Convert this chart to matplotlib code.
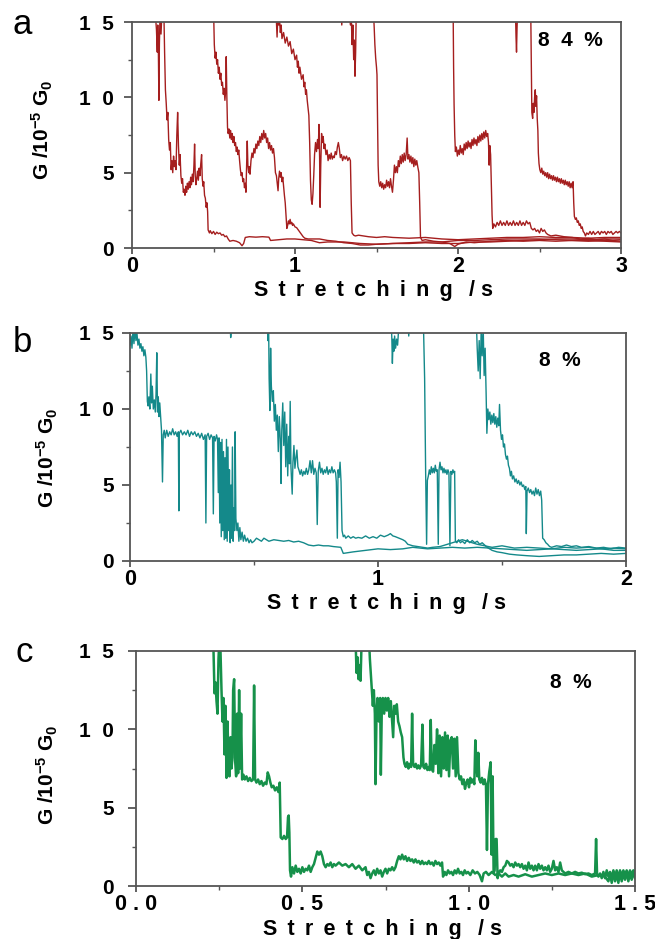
import numpy as np
import matplotlib
matplotlib.use('Agg')
import matplotlib.pyplot as plt
from matplotlib.ticker import MultipleLocator

plt.rcParams['font.family'] = ['Liberation Sans', 'DejaVu Sans']
plt.rcParams['mathtext.fontset'] = 'custom'
plt.rcParams['mathtext.rm'] = 'Liberation Sans:bold'
plt.rcParams['mathtext.it'] = 'Liberation Sans:bold'
plt.rcParams['mathtext.bf'] = 'Liberation Sans:bold'

# ---- data: (stretching time /s, G /1e-5 G0) ----
a1 = [(0.140,16),(0.150,14.5),(0.155,13.0),(0.158,14.8),(0.162,12.9),(0.165,9.8),(0.168,13.5),(0.172,15.5),(0.178,14.2),(0.185,16),(0.195,16),
      (0.200,13.0),(0.205,10.5),(0.210,9.6),(0.215,8.5),(0.220,9.0),(0.225,7.2),(0.230,6.5),(0.235,7.0),(0.240,5.2),(0.245,5.8),(0.250,5.0),(0.255,6.1),(0.260,5.4),(0.265,5.8),(0.270,5.2),(0.275,7.5),(0.280,9.0),(0.285,6.8),(0.290,5.5),(0.295,6.2),(0.300,4.8),(0.305,4.3),(0.310,4.6),(0.315,3.7),(0.320,3.9),(0.325,3.5),(0.330,4.1),(0.335,3.7),(0.340,4.3),(0.345,3.9),(0.350,4.4),(0.355,4.0),(0.360,4.7),(0.365,4.2),(0.370,4.9),(0.375,4.4),(0.380,5.5),(0.384,6.9),(0.388,4.8),(0.392,4.2),(0.397,4.6),(0.402,5.1),(0.407,4.5),(0.412,5.3),(0.417,4.8),(0.422,5.6),(0.427,6.2),(0.431,4.6),(0.436,4.1),(0.440,4.4),(0.445,3.5),(0.450,3.3),(0.455,2.7),(0.460,3.0),(0.464,2.4),(0.467,1.2),
      (0.475,1.0),(0.480,1.15),(0.490,0.95),(0.500,1.1),(0.510,0.9),(0.520,1.05),(0.530,0.95),(0.540,1.0),(0.550,0.85),(0.560,0.9),(0.570,0.75),(0.580,0.8),(0.590,0.6),(0.600,0.45),(0.620,0.5),(0.640,0.45),(0.660,0.35),(0.675,0.15),(0.685,0.3),(0.695,0.7),(0.720,0.75),(0.760,0.72),(0.800,0.75),(0.840,0.72),(0.850,0.5),(0.900,0.55),(0.950,0.6),(1.000,0.6),(1.050,0.55),(1.100,0.5),(1.150,0.35),(1.200,0.4),(1.300,0.4),(1.400,0.3),(1.500,0.25),(1.600,0.3),(1.700,0.35),(1.800,0.4),(1.900,0.4),(2.000,0.5),(2.100,0.5),(2.200,0.55),(2.300,0.6),(2.400,0.6),(2.500,0.6),(2.600,0.55),(2.700,0.5),(2.800,0.5),(2.900,0.45),(3.000,0.4)]
a2 = [(0.500,16),(0.505,13.5),(0.510,12.6),(0.515,13.0),(0.520,12.2),(0.525,12.5),(0.530,11.6),(0.535,12.0),(0.540,11.2),(0.545,11.6),(0.550,10.8),(0.555,11.0),(0.560,10.2),(0.565,10.6),(0.570,9.8),(0.575,10.5),(0.578,12.7),(0.582,10.0),(0.586,8.0),(0.590,7.6),(0.595,7.9),(0.600,7.3),(0.605,7.8),(0.610,7.2),(0.615,7.6),(0.620,7.0),(0.625,7.4),(0.630,6.8),(0.635,7.0),(0.640,6.4),(0.645,6.7),(0.650,6.2),(0.655,6.5),(0.660,5.8),(0.665,5.2),(0.670,4.8),(0.675,5.0),(0.680,4.4),(0.685,4.6),(0.690,4.0),(0.695,4.3),(0.699,3.7),(0.703,5.5),(0.707,7.1),(0.711,5.5),(0.716,5.0),(0.720,5.4),(0.724,4.9),(0.730,5.8),(0.736,6.3),(0.742,6.0),(0.748,6.6),(0.754,6.3),(0.760,6.9),(0.766,6.6),(0.772,7.1),(0.778,6.8),(0.784,7.4),(0.790,7.0),(0.796,7.6),(0.802,7.2),(0.808,7.8),(0.814,7.3),(0.820,7.6),(0.826,7.0),(0.832,7.3),(0.838,6.6),(0.844,7.0),(0.850,6.5),(0.856,6.8),(0.862,6.3),(0.868,6.6),(0.874,6.0),(0.880,5.0),(0.886,4.8),(0.892,4.2),(0.896,3.8),(0.900,4.6),(0.905,5.1),(0.910,4.7),(0.915,5.0),(0.920,4.4),(0.925,4.7),(0.930,4.1),(0.935,3.5),(0.940,3.0),(0.945,2.2),(0.950,1.3),(0.955,1.5),(0.960,1.8),(0.965,1.6),(0.970,1.9),(0.975,1.6),(0.980,1.7),(0.985,1.5),(0.990,1.6),(1.000,1.4),(1.010,1.35),(1.020,1.2),(1.030,1.05),(1.040,0.9),(1.050,0.75),(1.060,0.65),(1.080,0.6),(1.100,0.6),(1.150,0.6),(1.200,0.5),(1.250,0.45),(1.300,0.35),(1.350,0.3),(1.400,0.2),(1.450,0.2),(1.500,0.25),(1.600,0.3),(1.700,0.3),(1.800,0.35),(1.900,0.3),(2.000,0.3),(2.100,0.4),(2.200,0.4),(2.300,0.45),(2.400,0.5),(2.500,0.55),(2.600,0.6),(2.700,0.6),(2.800,0.55),(2.900,0.6),(3.000,0.6)]
a3 = [(0.880,16),(0.885,15.3),(0.890,14.0),(0.895,15.5),(0.900,14.8),(0.905,15.2),(0.910,14.3),(0.915,14.8),(0.920,13.9),(0.930,14.3),(0.940,13.6),(0.950,14.0),(0.960,13.4),(0.970,13.7),(0.980,12.9),(0.990,13.2),(1.000,12.5),(1.010,12.8),(1.015,12.0),(1.020,12.4),(1.025,11.6),(1.030,12.0),(1.040,11.2),(1.050,11.5),(1.055,10.7),(1.060,11.0),(1.065,10.2),(1.070,10.5),(1.075,9.8),(1.080,9.3),(1.085,8.8),(1.090,7.0),(1.095,4.5),(1.100,3.2),(1.105,2.9),(1.110,3.6),(1.115,4.8),(1.120,6.2),(1.126,7.0),(1.132,6.4),(1.138,7.2),(1.143,6.6),(1.147,8.2),(1.151,6.0),(1.154,2.7),(1.158,5.5),(1.163,7.6),(1.168,7.0),(1.173,7.4),(1.178,6.6),(1.183,6.9),(1.190,6.2),(1.197,6.5),(1.203,5.8),(1.210,6.2),(1.216,5.9),(1.222,6.3),(1.229,5.9),(1.235,6.1),(1.241,6.0),(1.247,6.4),(1.254,6.2),(1.260,6.7),(1.266,7.0),(1.272,6.6),(1.278,6.0),(1.285,6.2),(1.292,5.8),(1.300,6.1),(1.308,5.9),(1.316,6.1),(1.324,5.8),(1.332,6.0),(1.340,5.8),(1.345,3.0),(1.350,1.0),(1.360,0.85),(1.370,0.8),(1.390,0.85),(1.420,0.8),(1.450,0.75),(1.500,0.7),(1.550,0.75),(1.600,0.7),(1.700,0.65),(1.800,0.7),(1.900,0.6),(2.000,0.55),(2.100,0.6),(2.200,0.65),(2.300,0.7),(2.400,0.7),(2.500,0.75),(2.600,0.7),(2.700,0.7),(2.800,0.65),(2.900,0.7),(3.000,0.7)]
a4 = [(1.280,16),(1.287,14.8),(1.292,16),(1.330,16),(1.340,14.8),(1.345,15.5),(1.350,13.5),(1.355,14.8),(1.360,12.5),(1.364,13.8),(1.368,11.4),(1.372,13.0),(1.376,16),(1.480,16),(1.486,14.6),(1.490,13.5),(1.495,12.6),(1.500,12.0),(1.503,11.5),(1.507,8.0),(1.510,5.5),(1.514,4.4),(1.520,4.1),(1.526,4.4),(1.532,4.0),(1.538,4.3),(1.544,3.9),(1.550,4.2),(1.556,4.0),(1.562,4.5),(1.568,4.1),(1.574,4.4),(1.580,4.0),(1.586,4.6),(1.592,4.1),(1.598,3.7),(1.604,4.5),(1.610,5.5),(1.616,5.0),(1.622,5.4),(1.628,5.0),(1.634,5.8),(1.640,5.4),(1.646,6.1),(1.652,5.6),(1.658,6.2),(1.664,5.7),(1.670,6.3),(1.676,5.8),(1.682,6.2),(1.688,7.3),(1.693,5.9),(1.699,6.2),(1.705,5.7),(1.711,6.1),(1.717,5.6),(1.723,6.0),(1.729,5.4),(1.735,5.9),(1.741,5.5),(1.747,5.8),(1.753,5.4),(1.760,5.0),(1.765,3.0),(1.770,0.7),(1.780,0.5),(1.800,0.55),(1.850,0.45),(1.900,0.4),(1.950,0.3),(1.980,0.1),(2.000,0.25),(2.050,0.4),(2.100,0.35),(2.200,0.45),(2.300,0.5),(2.400,0.45),(2.500,0.5),(2.600,0.45),(2.700,0.5),(2.800,0.45),(2.900,0.5),(3.000,0.45)]
a5 = [(1.970,16),(1.973,12.0),(1.976,9.5),(1.980,7.5),(1.984,6.4),(1.990,6.7),(1.996,6.1),(2.002,6.5),(2.008,6.2),(2.014,6.8),(2.020,6.3),(2.026,6.6),(2.032,6.2),(2.038,6.9),(2.044,6.5),(2.050,7.0),(2.056,6.6),(2.062,7.1),(2.068,6.7),(2.074,7.0),(2.080,6.6),(2.086,7.2),(2.092,6.8),(2.098,7.3),(2.104,6.9),(2.110,7.2),(2.116,6.8),(2.122,7.4),(2.128,7.0),(2.134,7.5),(2.140,7.1),(2.146,7.6),(2.152,7.2),(2.158,7.7),(2.164,7.3),(2.170,7.8),(2.176,7.4),(2.182,7.6),(2.187,7.0),(2.191,5.5),(2.195,6.8),(2.200,6.2),(2.205,4.0),(2.209,2.2),(2.213,1.3),(2.220,1.6),(2.230,1.4),(2.240,1.7),(2.250,1.5),(2.260,1.8),(2.270,1.5),(2.280,1.7),(2.290,1.5),(2.300,1.8),(2.310,1.5),(2.320,1.7),(2.330,1.5),(2.340,1.8),(2.350,1.5),(2.360,1.7),(2.370,1.5),(2.380,1.8),(2.390,1.5),(2.400,1.7),(2.410,1.5),(2.420,1.8),(2.430,1.6),(2.440,1.7),(2.450,1.3),(2.460,1.2),(2.470,1.3),(2.480,1.1),(2.490,1.2),(2.500,1.0),(2.510,1.3),(2.520,1.1),(2.530,1.2),(2.540,1.0),(2.550,0.9),(2.570,0.8),(2.600,0.85),(2.650,0.75),(2.700,0.7),(2.750,0.6),(2.800,0.65),(2.850,0.55),(2.900,0.6),(2.950,0.5),(3.000,0.55)]
a6 = [(2.300,16),(2.352,16),(2.356,14.0),(2.359,13.0),(2.362,14.5),(2.366,16),(2.446,16),(2.450,12.0),(2.453,9.0),(2.458,8.6),(2.462,9.6),(2.466,9.0),(2.470,10.0),(2.474,10.5),(2.478,9.4),(2.482,10.1),(2.486,8.6),(2.490,7.8),(2.493,6.3),(2.497,5.6),(2.502,5.2),(2.508,5.0),(2.514,5.3),(2.520,4.9),(2.526,5.1),(2.532,4.8),(2.538,5.0),(2.544,4.7),(2.550,5.0),(2.556,4.6),(2.562,4.9),(2.568,4.6),(2.574,4.8),(2.580,4.5),(2.586,4.8),(2.592,4.5),(2.598,4.7),(2.604,4.4),(2.610,4.7),(2.616,4.4),(2.622,4.6),(2.628,4.3),(2.634,4.6),(2.640,4.3),(2.646,4.5),(2.652,4.2),(2.658,4.5),(2.664,4.2),(2.670,4.4),(2.676,4.1),(2.682,4.4),(2.688,4.0),(2.694,4.3),(2.700,4.0),(2.706,4.4),(2.710,3.0),(2.714,2.1),(2.720,1.9),(2.726,2.0),(2.732,1.7),(2.738,1.8),(2.744,1.5),(2.750,1.6),(2.756,1.3),(2.762,1.4),(2.768,1.1),(2.775,1.0),(2.782,0.8),(2.790,1.0),(2.800,0.9),(2.810,1.1),(2.820,0.9),(2.830,1.1),(2.840,0.9),(2.850,1.0),(2.860,1.1),(2.870,0.9),(2.880,1.1),(2.890,1.0),(2.900,1.1),(2.910,0.9),(2.920,1.1),(2.930,1.0),(2.940,1.1),(2.950,0.9),(2.960,1.0),(2.970,1.1),(2.980,1.0),(2.990,1.1),(3.000,1.0)]

b1 = [(0.000,14.2),(0.004,14.8),(0.008,14.0),(0.012,15.2),(0.016,14.3),(0.020,15.3),(0.024,14.5),(0.028,15.0),(0.032,14.2),(0.036,14.6),(0.040,14.0),(0.044,14.3),(0.048,13.8),(0.052,14.1),(0.056,13.5),(0.060,13.9),(0.064,13.4),(0.067,12.5),(0.070,10.5),(0.073,10.2),(0.076,10.8),(0.080,10.0),(0.084,12.3),(0.087,10.4),(0.090,11.5),(0.094,10.0),(0.098,10.6),(0.102,9.8),(0.105,11.0),(0.108,13.7),(0.111,9.8),(0.114,10.8),(0.117,9.5),(0.120,10.4),(0.124,9.4),(0.127,8.6),(0.131,5.2),(0.134,8.3),(0.138,8.6),(0.142,8.1),(0.148,8.6),(0.154,8.2),(0.160,8.5),(0.166,8.3),(0.172,8.7),(0.178,8.3),(0.184,8.5),(0.190,8.2),(0.195,8.5),(0.197,3.3),(0.199,8.4),(0.205,8.6),(0.212,8.3),(0.219,8.5),(0.226,8.3),(0.233,8.6),(0.240,8.2),(0.247,8.5),(0.254,8.3),(0.261,8.5),(0.268,8.2),(0.275,8.4),(0.282,8.1),(0.289,8.4),(0.296,8.0),(0.303,8.3),(0.306,2.5),(0.309,8.2),(0.315,8.4),(0.321,8.0),(0.327,8.3),(0.333,8.1),(0.336,3.1),(0.339,8.2),(0.344,7.9),(0.349,8.3),(0.353,8.0),(0.356,4.5),(0.359,8.1),(0.362,2.5),(0.365,7.8),(0.368,1.6),(0.371,8.0),(0.374,2.0),(0.377,7.2),(0.380,1.4),(0.383,6.8),(0.386,1.5),(0.389,8.0),(0.392,1.3),(0.395,7.5),(0.398,2.0),(0.401,6.0),(0.404,1.2),(0.407,5.0),(0.410,1.5),(0.413,7.5),(0.416,1.3),(0.419,3.5),(0.422,2.0),(0.424,8.5),(0.427,2.8),(0.431,2.0),(0.435,2.5),(0.439,1.3),(0.443,2.2),(0.447,1.4),(0.452,1.9),(0.457,1.3),(0.462,1.7),(0.468,1.3),(0.474,1.5),(0.480,1.2),(0.486,1.4),(0.492,1.2),(0.500,1.3),(0.510,1.5),(0.520,1.4),(0.530,1.3),(0.540,1.5),(0.550,1.4),(0.560,1.3),(0.580,1.4),(0.600,1.35),(0.620,1.3),(0.640,1.35),(0.660,1.25),(0.680,1.3),(0.700,1.2),(0.720,1.05),(0.740,1.0),(0.760,1.05),(0.780,1.0),(0.800,1.0),(0.820,0.95),(0.850,0.9),(0.860,0.5),(0.880,0.55),(0.900,0.6),(0.950,0.7),(1.000,0.8),(1.050,0.75),(1.100,0.8),(1.140,0.9),(1.200,0.8),(1.250,0.85),(1.300,0.9),(1.350,0.85),(1.400,0.9),(1.450,0.85),(1.500,0.8),(1.550,0.75),(1.600,0.7),(1.650,0.75),(1.700,0.8),(1.750,0.75),(1.800,0.7),(1.850,0.75),(1.900,0.8),(1.950,0.7),(2.000,0.7)]
b2 = [(0.395,16),(0.403,16),(0.406,14.7),(0.409,15.3),(0.412,16),(0.553,16),(0.556,14.5),(0.559,15.5),(0.561,12.0),(0.564,9.9),(0.567,14.0),(0.570,11.5),(0.574,10.5),(0.578,11.2),(0.582,9.2),(0.586,10.3),(0.590,8.6),(0.594,9.6),(0.598,7.2),(0.602,9.5),(0.606,8.0),(0.609,5.1),(0.612,8.6),(0.616,10.4),(0.620,7.6),(0.624,9.8),(0.628,6.2),(0.632,9.0),(0.636,5.6),(0.640,8.2),(0.643,6.4),(0.646,10.5),(0.649,6.2),(0.652,5.2),(0.654,4.4),(0.657,6.5),(0.661,7.6),(0.665,6.1),(0.669,6.8),(0.673,7.3),(0.677,6.2),(0.681,6.0),(0.686,5.7),(0.691,6.0),(0.696,5.6),(0.701,5.9),(0.706,5.7),(0.711,6.1),(0.716,5.7),(0.721,6.0),(0.726,6.6),(0.731,5.8),(0.736,6.6),(0.741,5.7),(0.746,6.1),(0.751,5.8),(0.755,2.4),(0.759,5.9),(0.764,6.5),(0.769,5.8),(0.774,6.1),(0.779,5.7),(0.784,6.0),(0.789,5.8),(0.794,6.2),(0.799,5.7),(0.804,6.0),(0.809,5.8),(0.814,6.2),(0.819,5.8),(0.824,6.0),(0.829,5.8),(0.832,5.2),(0.836,1.5),(0.839,6.0),(0.843,5.5),(0.847,6.5),(0.851,5.2),(0.855,2.0),(0.860,1.6),(0.865,1.7),(0.870,1.5),(0.880,1.65),(0.890,1.5),(0.900,1.6),(0.910,1.5),(0.920,1.55),(0.935,1.5),(0.950,1.65),(0.965,1.5),(0.980,1.6),(0.995,1.5),(1.010,1.7),(1.025,1.6),(1.040,1.7),(1.050,1.8),(1.060,1.65),(1.070,1.6),(1.085,1.5),(1.100,1.4),(1.110,1.3),(1.120,1.1),(1.140,1.0),(1.160,0.95),(1.180,0.9),(1.200,0.85),(1.220,0.9),(1.250,0.95),(1.280,1.1),(1.300,1.2),(1.320,1.3),(1.340,1.4),(1.360,1.3),(1.380,1.2),(1.400,1.1),(1.430,1.0),(1.460,0.9),(1.500,1.0),(1.550,0.85),(1.600,0.9),(1.650,0.85),(1.700,0.8),(1.750,0.9),(1.800,0.85),(1.850,0.9),(1.900,0.8),(1.950,0.85),(2.000,0.8)]
b3 = [(1.053,16),(1.056,14.5),(1.058,13.0),(1.061,14.6),(1.064,13.8),(1.067,14.8),(1.071,14.0),(1.075,14.6),(1.079,14.2),(1.083,15.2),(1.087,16),(1.120,16),(1.124,14.8),(1.128,16),(1.180,16),(1.184,15.0),(1.188,12.0),(1.192,6.0),(1.196,1.1),(1.199,5.3),(1.203,5.6),(1.207,6.0),(1.211,5.7),(1.215,6.2),(1.219,5.8),(1.223,6.1),(1.227,5.8),(1.231,6.3),(1.235,5.9),(1.239,6.0),(1.243,1.1),(1.246,6.0),(1.250,6.5),(1.254,6.0),(1.258,6.2),(1.262,5.8),(1.266,6.1),(1.270,5.8),(1.274,6.0),(1.278,5.7),(1.282,6.0),(1.286,5.8),(1.290,1.0),(1.294,5.9),(1.298,5.7),(1.302,6.0),(1.306,5.8),(1.309,5.9),(1.312,1.3),(1.318,1.2),(1.325,1.4),(1.332,1.2),(1.340,1.3),(1.350,1.15),(1.360,1.4),(1.370,1.2),(1.380,1.35),(1.390,1.2),(1.400,1.3),(1.410,1.1),(1.420,1.2),(1.440,0.9),(1.460,0.7),(1.480,0.6),(1.500,0.55),(1.530,0.45),(1.560,0.4),(1.600,0.35),(1.650,0.3),(1.700,0.35),(1.750,0.4),(1.800,0.4),(1.850,0.45),(1.900,0.5),(1.950,0.45),(2.000,0.5)]
b4 = [(1.396,16),(1.400,14.0),(1.404,12.5),(1.408,14.5),(1.412,12.0),(1.416,15.2),(1.420,13.5),(1.424,15.5),(1.428,12.2),(1.432,14.0),(1.436,11.0),(1.439,8.4),(1.443,10.0),(1.447,9.3),(1.451,9.8),(1.455,9.0),(1.459,9.6),(1.463,9.1),(1.467,9.7),(1.471,9.0),(1.475,9.5),(1.479,8.8),(1.483,9.4),(1.487,8.9),(1.490,10.3),(1.494,8.6),(1.498,8.0),(1.502,8.3),(1.506,7.5),(1.510,7.7),(1.514,7.0),(1.518,6.7),(1.522,6.9),(1.526,6.3),(1.530,6.1),(1.534,5.6),(1.538,5.9),(1.542,5.4),(1.547,5.6),(1.552,5.2),(1.557,5.4),(1.562,5.1),(1.567,5.3),(1.572,5.0),(1.577,5.2),(1.582,4.9),(1.587,5.0),(1.592,4.7),(1.596,4.9),(1.598,1.8),(1.601,4.6),(1.606,4.8),(1.611,4.5),(1.616,4.7),(1.621,4.4),(1.626,4.6),(1.631,4.3),(1.636,4.8),(1.641,4.4),(1.646,4.7),(1.651,4.3),(1.656,4.6),(1.660,4.0),(1.664,1.5),(1.670,1.4),(1.677,1.2),(1.684,1.1),(1.692,0.95),(1.700,0.9),(1.720,1.0),(1.740,0.95),(1.760,1.05),(1.780,0.95),(1.800,1.0),(1.820,0.9),(1.850,0.95),(1.880,0.85),(1.910,0.9),(1.940,0.8),(1.970,0.9),(2.000,0.85)]

c1 = [(0.230,16),(0.233,15.0),(0.236,12.3),(0.239,13.0),(0.242,11.8),(0.245,11.0),(0.248,14.5),(0.251,16),(0.254,15.0),(0.257,12.5),(0.260,10.5),(0.263,12.0),(0.266,8.4),(0.269,11.5),(0.272,6.9),(0.275,10.5),(0.278,8.0),(0.281,7.0),(0.284,9.5),(0.287,7.5),(0.290,8.2),(0.292,12.5),(0.295,13.2),(0.298,8.0),(0.301,7.0),(0.304,11.0),(0.307,7.2),(0.310,12.5),(0.313,7.5),(0.316,11.0),(0.319,6.8),(0.323,7.1),(0.327,6.8),(0.332,7.0),(0.337,6.7),(0.342,6.9),(0.347,6.7),(0.352,6.8),(0.355,12.8),(0.358,6.8),(0.362,6.6),(0.367,6.8),(0.372,6.5),(0.377,6.7),(0.382,6.4),(0.387,6.6),(0.392,6.5),(0.396,7.25),(0.400,7.0),(0.404,6.6),(0.408,6.3),(0.413,6.4),(0.418,6.1),(0.423,6.3),(0.428,6.0),(0.432,6.6),(0.435,3.1),(0.440,3.0),(0.445,3.2),(0.450,3.0),(0.454,3.1),(0.457,4.4),(0.459,4.5),(0.461,3.4),(0.463,1.0),(0.466,0.6),(0.470,1.2),(0.475,0.8),(0.480,1.3),(0.485,0.9),(0.490,1.1),(0.495,0.8),(0.500,1.2),(0.505,0.9),(0.510,1.1),(0.515,1.0),(0.520,1.3),(0.525,0.9),(0.530,1.2),(0.535,1.4),(0.540,1.8),(0.545,2.2),(0.550,2.0),(0.555,2.2),(0.560,1.9),(0.565,1.4),(0.570,1.2),(0.575,1.4),(0.580,1.3),(0.585,1.5),(0.590,1.2),(0.595,1.4),(0.600,1.3),(0.610,1.5),(0.620,1.3),(0.630,1.4),(0.640,1.2),(0.650,1.4),(0.660,1.1),(0.670,1.3),(0.680,1.0),(0.690,1.2),(0.695,0.7),(0.700,0.9),(0.705,0.5),(0.710,0.8),(0.715,1.0),(0.720,0.7),(0.725,1.1),(0.730,0.8),(0.735,1.0),(0.740,0.6),(0.745,0.9),(0.750,1.1),(0.755,0.8),(0.760,1.1),(0.765,1.0),(0.770,1.2),(0.775,1.0),(0.780,1.2),(0.785,1.6),(0.790,1.9),(0.795,1.7),(0.800,2.0),(0.805,1.7),(0.810,1.9),(0.815,1.6),(0.820,1.8),(0.825,1.6),(0.830,1.7),(0.835,1.5),(0.840,1.7),(0.845,1.5),(0.850,1.6),(0.855,1.4),(0.860,1.6),(0.865,1.4),(0.870,1.5),(0.875,1.4),(0.880,1.6),(0.885,1.4),(0.890,1.5),(0.895,1.3),(0.900,1.6),(0.905,1.4),(0.910,1.5),(0.915,1.3),(0.920,1.5),(0.923,0.6),(0.928,0.9),(0.933,0.7),(0.938,1.0),(0.943,0.8),(0.948,0.9),(0.953,0.7),(0.958,1.0),(0.963,0.8),(0.968,1.1),(0.973,0.8),(0.978,0.9),(0.983,0.7),(0.988,1.0),(0.993,0.8),(0.998,0.9),(1.005,0.7),(1.012,1.0),(1.019,0.8),(1.026,0.9),(1.033,0.7),(1.040,0.3),(1.045,0.8),(1.052,0.9),(1.060,0.7),(1.070,0.9),(1.080,0.7),(1.090,0.8),(1.100,0.6),(1.110,0.8),(1.120,0.6),(1.135,0.7),(1.150,0.6),(1.170,0.75),(1.190,0.6),(1.210,0.7),(1.230,0.8),(1.250,0.7),(1.270,0.8),(1.290,0.7),(1.310,0.8),(1.330,0.7),(1.350,0.8),(1.370,0.6),(1.390,0.7),(1.410,0.6),(1.420,0.3),(1.425,0.8),(1.430,0.2),(1.435,0.9),(1.440,0.3),(1.445,0.8),(1.450,0.2),(1.455,0.9),(1.460,0.3),(1.465,0.8),(1.470,0.4),(1.475,0.9),(1.480,0.3),(1.485,0.8),(1.490,0.4),(1.495,0.9),(1.500,0.5)]
c2 = [(0.658,16),(0.661,15.0),(0.663,13.6),(0.666,14.6),(0.669,13.2),(0.672,14.1),(0.675,13.1),(0.678,15.5),(0.681,16),(0.700,16),(0.703,14.5),(0.706,13.5),(0.709,12.5),(0.712,11.5),(0.715,12.5),(0.718,11.0),(0.720,6.5),(0.723,11.0),(0.726,12.0),(0.730,10.5),(0.734,12.0),(0.736,7.1),(0.739,11.5),(0.742,12.0),(0.746,11.0),(0.750,12.0),(0.754,11.2),(0.758,12.0),(0.762,10.8),(0.766,11.8),(0.770,10.5),(0.773,9.5),(0.776,11.5),(0.780,11.0),(0.784,11.6),(0.788,10.5),(0.792,10.2),(0.796,9.8),(0.800,9.5),(0.804,8.2),(0.807,7.8),(0.811,7.6),(0.815,7.9),(0.819,7.5),(0.823,7.8),(0.827,7.6),(0.830,11.0),(0.833,7.8),(0.837,7.6),(0.841,7.8),(0.845,7.5),(0.849,7.7),(0.853,7.5),(0.857,7.7),(0.861,10.3),(0.864,7.6),(0.868,7.5),(0.872,7.8),(0.876,7.4),(0.880,7.6),(0.883,7.4),(0.886,10.6),(0.889,7.5),(0.893,7.3),(0.897,9.0),(0.901,7.8),(0.905,10.0),(0.909,7.2),(0.913,9.6),(0.917,7.0),(0.921,9.5),(0.925,7.5),(0.929,9.8),(0.933,7.4),(0.937,9.6),(0.941,7.0),(0.945,9.3),(0.949,9.5),(0.953,7.5),(0.957,9.4),(0.961,7.0),(0.965,9.5),(0.969,7.2),(0.973,6.8),(0.977,7.0),(0.981,6.5),(0.985,6.8),(0.989,6.2),(0.993,6.6),(0.997,6.8),(1.001,6.3),(1.005,6.9),(1.009,6.6),(1.013,6.8),(1.017,6.5),(1.020,9.3),(1.023,8.0),(1.026,7.0),(1.029,8.5),(1.032,6.8),(1.036,6.6),(1.040,6.9),(1.044,6.5),(1.048,6.8),(1.052,6.4),(1.055,2.3),(1.058,6.5),(1.062,7.3),(1.066,7.9),(1.069,2.0),(1.072,7.0),(1.075,0.8),(1.078,1.0),(1.081,3.0),(1.084,3.0),(1.087,0.5),(1.090,0.8),(1.095,1.0),(1.100,0.9),(1.105,1.2),(1.110,1.3),(1.115,1.6),(1.120,1.5),(1.125,1.3),(1.130,1.4),(1.135,1.2),(1.140,1.5),(1.145,1.3),(1.150,1.4),(1.155,1.2),(1.160,1.4),(1.165,1.1),(1.170,1.3),(1.175,1.0),(1.180,1.5),(1.185,1.1),(1.190,1.3),(1.195,1.0),(1.200,1.3),(1.205,1.0),(1.210,1.4),(1.215,1.1),(1.220,1.3),(1.225,1.0),(1.230,1.2),(1.235,1.0),(1.240,1.3),(1.245,0.9),(1.250,1.1),(1.255,1.6),(1.260,1.0),(1.265,1.2),(1.270,0.9),(1.275,1.5),(1.280,1.0),(1.285,0.9),(1.290,0.8),(1.300,0.9),(1.310,0.8),(1.320,0.9),(1.330,0.8),(1.340,0.85),(1.350,0.75),(1.360,0.8),(1.370,0.7),(1.380,0.8),(1.383,3.0),(1.386,0.7),(1.390,0.6),(1.395,0.8),(1.400,0.5),(1.405,0.9),(1.410,0.5),(1.415,1.0),(1.420,0.6),(1.425,0.9),(1.430,0.5),(1.435,1.0),(1.440,0.6),(1.445,1.0),(1.450,0.5),(1.455,1.0),(1.460,0.6),(1.465,1.0),(1.470,0.7),(1.475,1.0),(1.480,0.6),(1.485,1.0),(1.490,0.7),(1.495,1.0),(1.500,0.9)]

yticks = [0, 5, 10, 15]
ytick_labels = ['0', '5', '1  0', '1  5']
xticks_a = [0, 1, 2, 3]
xticks_b = [0, 1, 2]
xticks_c = [0.0, 0.5, 1.0, 1.5]
xlabels_c = ['0 . 0', '0 . 5', '1 . 0', '1 . 5']

W, H = 655, 939
fig = plt.figure(figsize=(W / 100, H / 100), dpi=100)

def fx(x):
    return x / W

def fy(y):
    return 1 - y / H

SPINE = '#555555'
TS = '\u2009'  # thin space, widens the letter spacing
XLABEL = (' ' + TS).join('Stretching') + '  ' + TS + '/ s'

panels = [
    dict(box=(132, 22, 621, 248), traces=[a1, a2, a3, a4, a5, a6], color='#a51e1e', lw=1.0,
         xmax=3, xticks=xticks_a, xlabels=[str(v) for v in xticks_a], xminor=0.5, ypad=7.2,
         pct='8  4  %', pct_xy=(603, 40), letter='a', letter_xy=(22, 34),
         ylab_xy=(42, 130), xlab_xy=(374, 291)),
    dict(box=(130, 333, 626, 561), traces=[b1, b2, b3, b4], color='#14898a', lw=1.0,
         xmax=2, xticks=xticks_b, xlabels=[str(v) for v in xticks_b], xminor=0.5, ypad=6.0,
         pct='8  %', pct_xy=(581, 360), letter='b', letter_xy=(22, 352),
         ylab_xy=(47, 458), xlab_xy=(386, 603)),
    dict(box=(136, 651, 635, 886), traces=[c1, c2], color='#16914a', lw=1.8,
         xmax=1.5, xticks=xticks_c, xlabels=xlabels_c, xminor=0.25, ypad=10.3,
         pct='8  %', pct_xy=(592, 682), letter='c', letter_xy=(24, 662),
         ylab_xy=(47, 775), xlab_xy=(383, 929)),
]

for p in panels:
    x0, y0, x1, y1 = p['box']
    ax = fig.add_axes([fx(x0), fy(y1), (x1 - x0) / W, (y1 - y0) / H])
    for tr in p['traces']:
        t, g = np.array(tr).T
        ax.plot(t, g, color=p['color'], lw=p['lw'])
    ax.set_xlim(0, p['xmax'])
    ax.set_ylim(0, 15)
    ax.set_yticks(yticks)
    ax.set_yticklabels(ytick_labels, fontsize=15, fontweight='bold')
    ax.set_xticks(p['xticks'])
    ax.set_xticklabels(p['xlabels'], fontsize=15.5, fontweight='bold')
    ax.yaxis.set_minor_locator(MultipleLocator(2.5))
    ax.xaxis.set_minor_locator(MultipleLocator(p['xminor']))
    ax.tick_params(axis='y', which='major', direction='out', length=5.8, width=1.3, color=SPINE, pad=p['ypad'])
    ax.tick_params(axis='x', which='major', direction='out', length=4, width=1.3, color=SPINE, pad=2)
    ax.tick_params(which='minor', direction='out', length=3, width=1.0, color=SPINE)
    for s in ax.spines.values():
        s.set_color(SPINE)
        s.set_linewidth(1.3)
    fig.text(fx(p['pct_xy'][0]), fy(p['pct_xy'][1]), p['pct'],
             fontsize=15, fontweight='bold', ha='right', va='center')
    fig.text(fx(p['letter_xy'][0]), fy(p['letter_xy'][1]), p['letter'], fontsize=25,
             ha='center', va='baseline')
    fig.text(fx(p['ylab_xy'][0]), fy(p['ylab_xy'][1]), r'G /10$^{-5}$ G$_0$', rotation=90,
             fontsize=15, fontweight='bold', ha='center', va='center')
    fig.text(fx(p['xlab_xy'][0]), fy(p['xlab_xy'][1]), XLABEL,
             fontsize=15.5, fontweight='bold', ha='center', va='center')

fig.savefig('out.png', dpi=100)
